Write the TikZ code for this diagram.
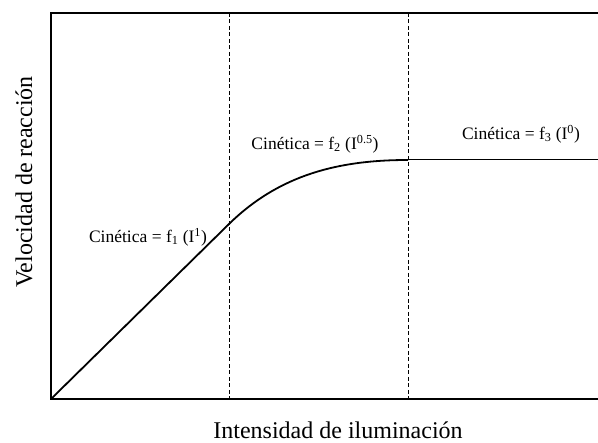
\documentclass[tikz,border=0pt]{standalone}
\usepackage{fontspec}
\setmainfont{Liberation Serif}
\begin{document}
\begin{tikzpicture}  % ------ Cinetica segun la intensidad -----------
      [x=1pt,y=-1pt,
       axe/.style={line width=1.1pt},
       courbe/.style={line width=1.8pt},
       limite/.style={line width=0.8pt,dash pattern=on 4pt off 2.5pt},
       etiq/.style={font=\fontsize{17.5}{19}\selectfont},
       titre/.style={font=\fontsize{24}{26}\selectfont,inner sep=0pt}]
    \useasboundingbox (0,0) rectangle (598,443);
    \coordinate (O) at (51,399);
    \coordinate (H) at (51,13);
    \coordinate (HD) at (598,13);
    \coordinate (BD) at (598,399);
    \coordinate (P1) at (229,224);
    \coordinate (P2) at (408,160);
    \coordinate (P3) at (598,160);

    \draw[axe] (HD) -- (H) -- (O) -- (BD) ;
    \draw[limite] (229,13) -- (229,399) ;
    \draw[limite] (408,13) -- (408,399) ;
    \draw[courbe] (O) -- (P1) .. controls (280,174) and (340,160) .. (P2) ;
    \draw[line width=1pt] (P2) -- (P3) ;

    \node[etiq] (k1) at (148,237) {Cinética = f\textsubscript{1} (I\textsuperscript{1})};
    \node[etiq] (k2) at (315,144) {Cinética = f\textsubscript{2} (I\textsuperscript{0.5})};
    \node[etiq] (k3) at (521,134) {Cinética = f\textsubscript{3} (I\textsuperscript{0})};

    \node[titre,rotate=90] (vy) at (24,182) {Velocidad de reacción};
    \node[titre,anchor=base] (vx) at (338,438.5) {Intensidad de iluminación};
\end{tikzpicture}
\end{document}
